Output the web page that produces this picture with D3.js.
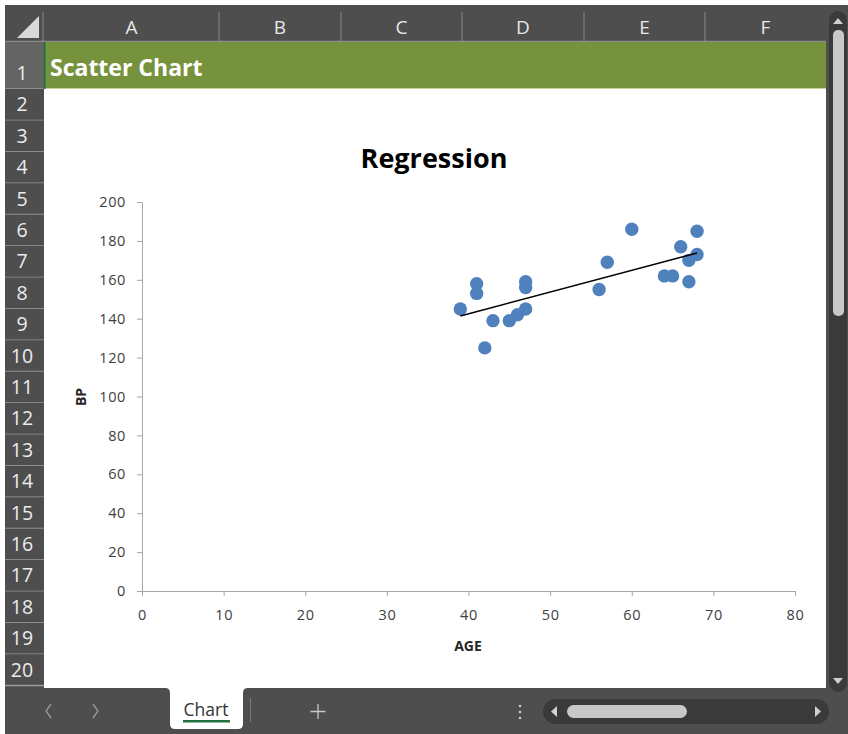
<!DOCTYPE html>
<html>
<head>
<meta charset="utf-8">
<script src="https://cdn.jsdelivr.net/npm/d3@7"></script>
<style>
  html, body { margin: 0; padding: 0; background: #ffffff; }
  svg { display: block; }
  text { font-family: "Open Sans", "Noto Sans", sans-serif; }
</style>
</head>
<body>
<svg id="sheet" width="848" height="734"></svg>
<script>
// Patient data: age vs. blood pressure
const ages = [39, 41, 41, 42, 43, 45, 46, 47, 47, 47, 56, 57, 60, 64, 65, 66, 67, 67, 68, 68];
const bp   = [145, 158, 153, 125, 139, 139, 142, 145, 159, 156, 155, 169, 186, 162, 162, 177, 159, 170, 185, 173];

// Spreadsheet labels
const columnLetters = ["A", "B", "C", "D", "E", "F"];
const rowNumbers = d3.range(1, 21);

const chartTitle = "Regression";
const xAxisTitle = "AGE";
const yAxisTitle = "BP";
const bannerText = "Scatter Chart";
const sheetTab = "Chart";

const svg = d3.select("#sheet");

// ---------- spreadsheet frame ----------
const frameDark = "#4e4e4e";
const hdrLeft = 5, hdrTop = 5, hdrBottom = 42, rowHdrRight = 44, gridRight = 826;
const columnEdges = [44, 219, 341, 462, 584, 705, 826];
const rowEdges = [42, 89].concat(d3.range(1, 20).map(i => 89 + i * 31.4));
const bottomBarTop = 688;

svg.append("rect").attr("x", hdrLeft).attr("y", hdrTop).attr("width", 848 - hdrLeft).attr("height", 734 - hdrTop).attr("fill", frameDark);

// cell area
svg.append("rect").attr("x", rowHdrRight).attr("y", hdrBottom).attr("width", gridRight - rowHdrRight).attr("height", bottomBarTop - hdrBottom).attr("fill", "#ffffff");

// select-all triangle
svg.append("path").attr("d", "M39,16 L39,38 L17,38 Z").attr("fill", "#d9d9d9");

// column header separators and letters
const colG = svg.append("g");
columnEdges.slice(1, -1).forEach(x => {
  colG.append("line").attr("x1", x).attr("x2", x).attr("y1", 12).attr("y2", hdrBottom).attr("stroke", "#8a8a8a").attr("stroke-width", 1);
});
colG.append("line").attr("x1", rowHdrRight - 1).attr("x2", rowHdrRight - 1).attr("y1", 12).attr("y2", hdrBottom).attr("stroke", "#8a8a8a");
columnLetters.forEach((c, i) => {
  colG.append("text").attr("x", (columnEdges[i] + columnEdges[i + 1]) / 2).attr("y", 34)
    .attr("text-anchor", "middle").attr("font-size", 19).attr("fill", "#e8e8e8").text(c);
});
svg.append("line").attr("x1", hdrLeft).attr("x2", gridRight).attr("y1", hdrBottom - 0.5).attr("y2", hdrBottom - 0.5).attr("stroke", "#8c8c8c").attr("stroke-width", 1.5);

// row headers
const rowG = svg.append("g");
rowNumbers.forEach((n, i) => {
  const y0 = rowEdges[i], y1 = rowEdges[i + 1];
  rowG.append("rect").attr("x", hdrLeft).attr("y", y0).attr("width", rowHdrRight - hdrLeft).attr("height", y1 - y0)
    .attr("fill", i === 0 ? "#646464" : frameDark);
  rowG.append("line").attr("x1", hdrLeft).attr("x2", rowHdrRight).attr("y1", y1).attr("y2", y1).attr("stroke", "#9c9c9c").attr("stroke-width", 1.5);
  rowG.append("text").attr("x", 22).attr("y", i === 0 ? y1 - 9 : y1 - 9)
    .attr("text-anchor", "middle").attr("font-size", 19.5).attr("fill", "#ebebeb").text(n);
});

// title banner in row 1
svg.append("rect").attr("x", rowHdrRight).attr("y", rowEdges[0]).attr("width", gridRight - rowHdrRight).attr("height", rowEdges[1] - rowEdges[0] - 1).attr("fill", "#76923c");
svg.append("line").attr("x1", rowHdrRight).attr("x2", gridRight).attr("y1", rowEdges[1] - 0.5).attr("y2", rowEdges[1] - 0.5).attr("stroke", "#c4d79b");
svg.append("line").attr("x1", rowHdrRight + 0.5).attr("x2", rowHdrRight + 0.5).attr("y1", rowEdges[0]).attr("y2", rowEdges[1]).attr("stroke", "#217346").attr("stroke-width", 2);
svg.append("text").attr("x", 50).attr("y", 76).attr("font-size", 23).attr("font-weight", 700).attr("fill", "#ffffff").text(bannerText);

// ---------- chart ----------
const plot = { left: 142, right: 795, top: 202, bottom: 591 };
const x = d3.scaleLinear().domain([0, 80]).range([plot.left, plot.right]);
const y = d3.scaleLinear().domain([0, 200]).range([plot.bottom, plot.top]);

const chart = svg.append("g");
chart.append("text").attr("x", 434).attr("y", 168).attr("text-anchor", "middle")
  .attr("font-size", 27).attr("font-weight", 700).attr("fill", "#000000").text(chartTitle);

const axisColor = "#a6a6a6";
const labelColor = "#404040";

const xAxis = chart.append("g").attr("transform", `translate(0,${plot.bottom})`)
  .call(d3.axisBottom(x).ticks(8).tickSize(5).tickPadding(14));
const yAxis = chart.append("g").attr("transform", `translate(${plot.left},0)`)
  .call(d3.axisLeft(y).ticks(10).tickSize(5).tickPadding(11));
[xAxis, yAxis].forEach(a => {
  a.select(".domain").attr("stroke", axisColor);
  a.selectAll(".tick line").attr("stroke", axisColor);
  a.selectAll(".tick text").attr("fill", labelColor).attr("font-size", 14.5)
    .attr("letter-spacing", 0.6).attr("font-family", "\"Open Sans\", sans-serif");
});
xAxis.selectAll(".tick text").attr("dy", "0.71em");

chart.append("text").attr("x", 468).attr("y", 651).attr("text-anchor", "middle")
  .attr("font-size", 14).attr("font-weight", 700).attr("fill", "#262626").text(xAxisTitle);
chart.append("text").attr("transform", "translate(86,397) rotate(-90)").attr("text-anchor", "middle")
  .attr("font-size", 14).attr("font-weight", 700).attr("fill", "#262626").text(yAxisTitle);

// least-squares trendline over the data range
const pts = ages.map((a, i) => ({ age: a, bp: bp[i] }));
const mx = d3.mean(ages), my = d3.mean(bp);
const slope = d3.sum(pts, p => (p.age - mx) * (p.bp - my)) / d3.sum(pts, p => (p.age - mx) ** 2);
const intercept = my - slope * mx;
const [xMin, xMax] = d3.extent(ages);

chart.append("g").selectAll("circle").data(pts).join("circle")
  .attr("cx", d => x(d.age)).attr("cy", d => y(d.bp)).attr("r", 6.7)
  .attr("fill", "#4f81bd");

chart.append("line")
  .attr("x1", x(xMin)).attr("y1", y(intercept + slope * xMin))
  .attr("x2", x(xMax)).attr("y2", y(intercept + slope * xMax))
  .attr("stroke", "#000000").attr("stroke-width", 1.5);

// ---------- vertical scrollbar ----------
svg.append("rect").attr("x", 829).attr("y", 11).attr("width", 18).attr("height", 681).attr("rx", 9).attr("fill", "#3a3a3a");
svg.append("path").attr("d", "M833,24 L838,18 L843,24 Z").attr("fill", "#d0d0d0");
svg.append("rect").attr("x", 833).attr("y", 30).attr("width", 11).attr("height", 286).attr("rx", 5).attr("fill", "#c8c8c8");
svg.append("path").attr("d", "M833,678 L838,684 L843,678 Z").attr("fill", "#d0d0d0");

// ---------- sheet tab bar ----------
svg.append("path").attr("d", "M51,704 L46,711 L51,718").attr("fill", "none").attr("stroke", "#9a9a9a").attr("stroke-width", 1.3);
svg.append("path").attr("d", "M93,704 L98,711 L93,718").attr("fill", "none").attr("stroke", "#9a9a9a").attr("stroke-width", 1.3);

svg.append("path").attr("d", "M165,688 Q170,688 170,693 L170,724 Q170,729 175,729 L238,729 Q243,729 243,724 L243,693 Q243,688 248,688 Z").attr("fill", "#ffffff");
svg.append("text").attr("x", 206).attr("y", 716).attr("text-anchor", "middle").attr("font-size", 17.5).attr("fill", "#333333").text(sheetTab);
svg.append("rect").attr("x", 183).attr("y", 720).attr("width", 47).attr("height", 2.5).attr("fill", "#217346");
svg.append("line").attr("x1", 250.5).attr("x2", 250.5).attr("y1", 698).attr("y2", 722).attr("stroke", "#7a7a7a");
svg.append("path").attr("d", "M318,704 L318,719 M310.5,711.5 L325.5,711.5").attr("stroke", "#c8c8c8").attr("stroke-width", 1.3);

[706, 712, 718].forEach(cy => svg.append("circle").attr("cx", 520).attr("cy", cy).attr("r", 1.3).attr("fill", "#c8c8c8"));
svg.append("rect").attr("x", 543).attr("y", 699).attr("width", 286).attr("height", 25).attr("rx", 12.5).attr("fill", "#3a3a3a");
svg.append("path").attr("d", "M551,711.5 L557,706 L557,717 Z").attr("fill", "#d0d0d0");
svg.append("rect").attr("x", 567).attr("y", 705).attr("width", 120).attr("height", 13).attr("rx", 6.5).attr("fill", "#c8c8c8");
svg.append("path").attr("d", "M821,711.5 L815,706 L815,717 Z").attr("fill", "#d0d0d0");
</script>
</body>
</html>
